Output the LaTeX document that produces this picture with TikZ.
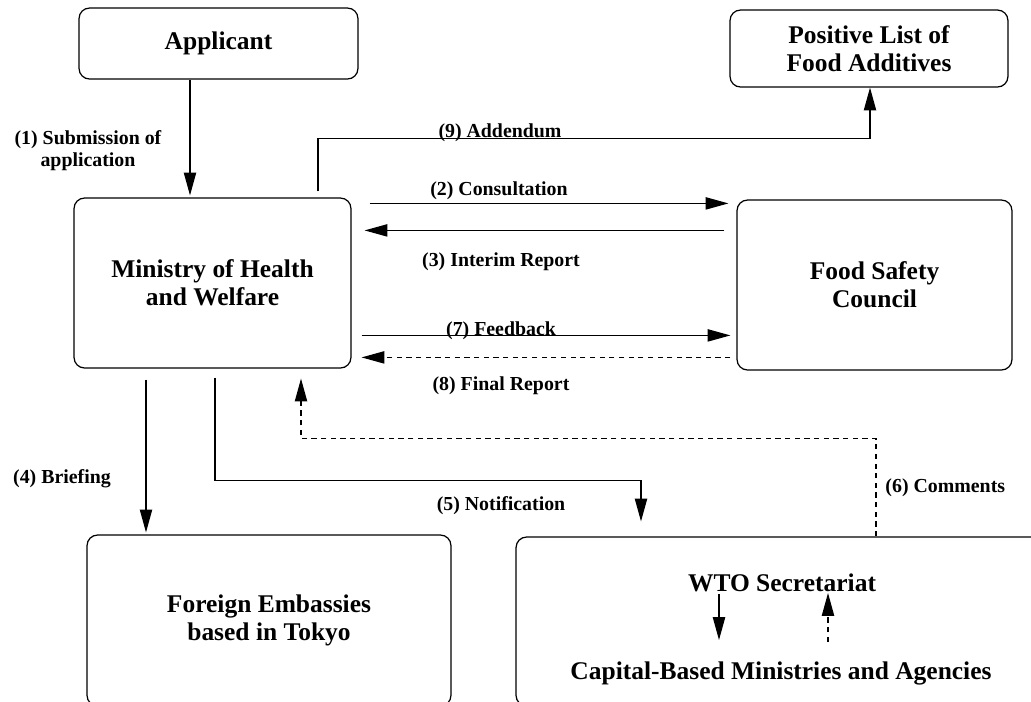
\documentclass[tikz,border=0pt]{standalone}
\usepackage{fontspec}
\setmainfont{Liberation Serif}
\usetikzlibrary{arrows.meta,calc,positioning}
\tikzset{>={Triangle[length=13pt,width=7pt]}}
\tikzset{box/.style={draw,rounded corners=6pt,align=center,font=\bfseries\fontsize{14.5}{16}\selectfont}}
\tikzset{lbl/.style={anchor=base,align=center,font=\bfseries\fontsize{11.3}{12.5}\selectfont}}
\tikzset{dashy/.style={dash pattern=on 3pt off 2.5pt}}

\begin{document}
\begin{tikzpicture}[x=0.02cm,y=-0.02cm,line width=0.7pt]
    \useasboundingbox (0,0) rectangle (1031,701);
    % boxes
    \node[box,minimum width=5.58cm,minimum height=1.42cm] (applicant) at (218.5,43.5) {Applicant};
    \node[box,minimum width=5.56cm,minimum height=1.54cm] (positive) at (869,48.5) {Positive List of\\Food Additives};
    \node[box,minimum width=5.54cm,minimum height=3.4cm] (ministry) at (212.5,283) {Ministry of Health\\and Welfare};
    \node[box,minimum width=5.5cm,minimum height=3.4cm] (fsc) at (874.5,285) {Food Safety\\Council};
    \node[box,minimum width=7.28cm,minimum height=3.42cm] (embassy) at (269,620.5) {Foreign Embassies\\based in Tokyo};
    \node[box,minimum width=10.68cm,minimum height=3.38cm] (wto) at (783,621.5) {};
    \node[box,draw=none] (wtosec) at (782,583) {WTO Secretariat};
    \node[box,draw=none] (capital) at (781,673) {Capital-Based Ministries and Agencies};

    % labels
    \node[lbl,anchor=center] (lbl1) at (88,151) {(1) Submission of\\application};
    \node[lbl] (lbl2) at (499,195) {(2) Consultation};
    \node[lbl] (lbl3) at (501,266) {(3) Interim Report};
    \node[lbl] (lbl4) at (62,483) {(4) Briefing};
    \node[lbl] (lbl5) at (501,510) {(5) Notification};
    \node[lbl,anchor=base west] (lbl6) at (879,492) {(6) Comments};
    \node[lbl] (lbl7) at (501,335) {(7) Feedback};
    \node[lbl] (lbl8) at (501,390) {(8) Final Report};
    \node[lbl] (lbl9) at (500,137) {(9) Addendum};

    % connectors
    \draw[->] ($(applicant.south)+(-28.5,0)$) -- ($(ministry.north)+(-22.5,-2)$);
    \draw[->] ($(ministry.north east)+(18,6)$) -- ($(fsc.north west)+(-8,4)$);
    \draw[->] ($(fsc.north west)+(-12,31)$) -- ($(ministry.north east)+(13,33)$);
    \draw[->] ($(ministry.north east)+(10,138)$) -- ($(fsc.north west)+(-6,136)$);
    \draw[->,dashy] ($(fsc.north west)+(-6,158)$) -- ($(ministry.north east)+(10,160)$);
    \draw[->] ($(ministry.north)+(105.5,-6)$) |- ($(positive.south)+(1,51)$) -- ($(positive.south)+(1,0)$);
    \draw[->] ($(ministry.south)+(-66.5,11)$) -- ($(embassy.north)+(-123,-2)$);
    \draw[->] ($(ministry.south)+(2.5,9)$) |- ($(wto.north)+(-142,-56)$) -- ($(wto.north)+(-142,-15)$);
    \draw[->,dashy] ($(wto.north)+(93,0)$) |- ($(ministry.south)+(88.5,70)$) -- ($(ministry.south)+(88.5,10)$);
    \draw[->] ($(wtosec.center)+(-63,11)$) -- ($(capital.center)+(-62,-33)$);
    \draw[->,dashy] ($(capital.center)+(47,-31)$) -- ($(wtosec.center)+(46,10)$);
\end{tikzpicture}
\end{document}
